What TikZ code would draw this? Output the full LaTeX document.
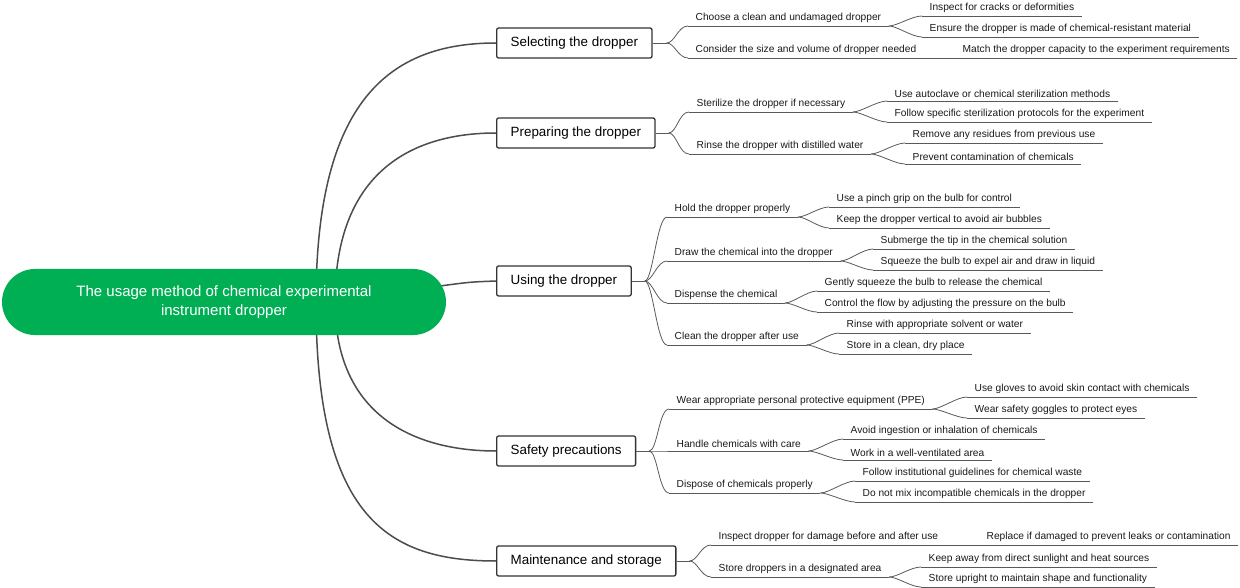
\documentclass[tikz,border=0pt]{standalone}
\usepackage{fontspec}
\setmainfont{Liberation Sans}
\usetikzlibrary{calc,backgrounds}
\begin{document}
\begin{tikzpicture}[x=1pt,y=-1pt,
  root/.style={draw=none,fill=rootgreen,text=white,rounded corners=33pt,minimum width=444pt,minimum height=66pt,align=center,font=\fontsize{15}{19}\selectfont},
  main/.style={draw=black!80,line width=1.3pt,rounded corners=2pt,fill=white,minimum height=30pt,inner xsep=14pt,font=\fontsize{13.4}{15}\selectfont},
  lbl/.style={anchor=south west,inner xsep=7.5pt,inner ysep=3pt,font=\fontsize{10.2}{12}\selectfont,text=black!90},
  con/.style={draw=black!70,line width=1.5pt},
  ln/.style={draw=black!65,line width=0.8pt}]
\definecolor{rootgreen}{HTML}{00AF54}
\useasboundingbox (0,0) rectangle (1240,588);
\node[root] (r) at (224,302) {The usage method of chemical experimental\\instrument dropper};
\node[main,anchor=west] (m1) at (496,43) {Selecting the dropper};
\node[main,anchor=west] (m2) at (496,133) {Preparing the dropper};
\node[main,anchor=west] (m3) at (496,281) {Using the dropper};
\node[main,anchor=west] (m4) at (496,451) {Safety precautions};
\node[main,anchor=west] (m5) at (496,561) {Maintenance and storage};
\coordinate (ra) at (316,302);
\coordinate (rb) at (335,302);
\coordinate (rc) at (440,286);
\begin{scope}[on background layer]
\draw[con] (ra) .. controls (316,100) and (390,43) .. (m1.west);
\draw[con] (rb) .. controls (335,165) and (420,133) .. (m2.west);
\draw[con] (rc) .. controls (470,282) .. (m3.west);
\draw[con] (rb) .. controls (335,420) and (420,451) .. (m4.west);
\draw[con] (ra) .. controls (316,520) and (390,561) .. (m5.west);
\end{scope}
% level 2 and 3 labels
\node[lbl] (a1) at (688,26) {Choose a clean and undamaged dropper};
\node[lbl] (a2) at (688,58) {Consider the size and volume of dropper needed};
\node[lbl] (a11) at (922,16) {Inspect for cracks or deformities};
\node[lbl] (a12) at (922,37) {Ensure the dropper is made of chemical-resistant material};
\node[lbl] (a21) at (955,58) {Match the dropper capacity to the experiment requirements};
\node[lbl] (b1) at (689,112) {Sterilize the dropper if necessary};
\node[lbl] (b2) at (689,154) {Rinse the dropper with distilled water};
\node[lbl] (b11) at (887,101) {Use autoclave or chemical sterilization methods};
\node[lbl] (b12) at (887,122) {Follow specific sterilization protocols for the experiment};
\node[lbl] (b21) at (905,143) {Remove any residues from previous use};
\node[lbl] (b22) at (905,164) {Prevent contamination of chemicals};
\node[lbl] (c1) at (667,217) {Hold the dropper properly};
\node[lbl] (c2) at (667,261) {Draw the chemical into the dropper};
\node[lbl] (c3) at (667,303) {Dispense the chemical};
\node[lbl] (c4) at (667,345) {Clean the dropper after use};
\node[lbl] (c11) at (829,207) {Use a pinch grip on the bulb for control};
\node[lbl] (c12) at (829,228) {Keep the dropper vertical to avoid air bubbles};
\node[lbl] (c21) at (873,249) {Submerge the tip in the chemical solution};
\node[lbl] (c22) at (873,270) {Squeeze the bulb to expel air and draw in liquid};
\node[lbl] (c31) at (817,291) {Gently squeeze the bulb to release the chemical};
\node[lbl] (c32) at (817,312) {Control the flow by adjusting the pressure on the bulb};
\node[lbl] (c41) at (839,333) {Rinse with appropriate solvent or water};
\node[lbl] (c42) at (839,354) {Store in a clean, dry place};
\node[lbl] (d1) at (669,409) {Wear appropriate personal protective equipment (PPE)};
\node[lbl] (d2) at (669,451) {Handle chemicals with care};
\node[lbl] (d3) at (669,493) {Dispose of chemicals properly};
\node[lbl] (d11) at (967,397) {Use gloves to avoid skin contact with chemicals};
\node[lbl] (d12) at (967,418) {Wear safety goggles to protect eyes};
\node[lbl] (d21) at (843,439) {Avoid ingestion or inhalation of chemicals};
\node[lbl] (d22) at (843,460) {Work in a well-ventilated area};
\node[lbl] (d31) at (855,481) {Follow institutional guidelines for chemical waste};
\node[lbl] (d32) at (855,502) {Do not mix incompatible chemicals in the dropper};
\node[lbl] (e1) at (711,545) {Inspect dropper for damage before and after use};
\node[lbl] (e2) at (711,577) {Store droppers in a designated area};
\node[lbl] (e11) at (979,545) {Replace if damaged to prevent leaks or contamination};
\node[lbl] (e21) at (921,567) {Keep away from direct sunlight and heat sources};
\node[lbl] (e22) at (921,587) {Store upright to maintain shape and functionality};
% underlines
\foreach \n in {a1,a2,a11,a12,a21,b1,b2,b11,b12,b21,b22,c1,c2,c3,c4,c11,c12,c21,c22,c31,c32,c41,c42,d1,d2,d3,d11,d12,d21,d22,d31,d32,e1,e2,e11,e21,e22}
  \draw[ln] (\n.south west) -- (\n.south east);
% stubs
\coordinate (s1) at ($(m1.east)+(14,0)$);
\coordinate (s2) at ($(m2.east)+(13,0)$);
\coordinate (s3) at ($(m3.east)+(13,0)$);
\coordinate (s4) at ($(m4.east)+(13,0)$);
\coordinate (s5) at ($(m5.east)+(13,0)$);
\foreach \m in {1,...,5} \draw[ln] (m\m.east) -- (s\m);
\tikzset{br/.style={ln}}
\newcommand{\brk}[2]{\draw[ln] (#1) .. controls ($(#1)+(8,0)$) and ($(#2)+(-10,0)$) .. (#2);}
\brk{s1}{a1.south west}\brk{s1}{a2.south west}
\brk{a1.south east}{a11.south west}\brk{a1.south east}{a12.south west}
\draw[ln] (a2.south east) -- (a21.south west);
\brk{s2}{b1.south west}\brk{s2}{b2.south west}
\brk{b1.south east}{b11.south west}\brk{b1.south east}{b12.south west}
\brk{b2.south east}{b21.south west}\brk{b2.south east}{b22.south west}
\brk{s3}{c1.south west}\brk{s3}{c2.south west}\brk{s3}{c3.south west}\brk{s3}{c4.south west}
\brk{c1.south east}{c11.south west}\brk{c1.south east}{c12.south west}
\brk{c2.south east}{c21.south west}\brk{c2.south east}{c22.south west}
\brk{c3.south east}{c31.south west}\brk{c3.south east}{c32.south west}
\brk{c4.south east}{c41.south west}\brk{c4.south east}{c42.south west}
\brk{s4}{d1.south west}\brk{s4}{d2.south west}\brk{s4}{d3.south west}
\brk{d1.south east}{d11.south west}\brk{d1.south east}{d12.south west}
\brk{d2.south east}{d21.south west}\brk{d2.south east}{d22.south west}
\brk{d3.south east}{d31.south west}\brk{d3.south east}{d32.south west}
\brk{s5}{e1.south west}\brk{s5}{e2.south west}
\draw[ln] (e1.south east) -- (e11.south west);
\brk{e2.south east}{e21.south west}\brk{e2.south east}{e22.south west}
\end{tikzpicture}
\end{document}
